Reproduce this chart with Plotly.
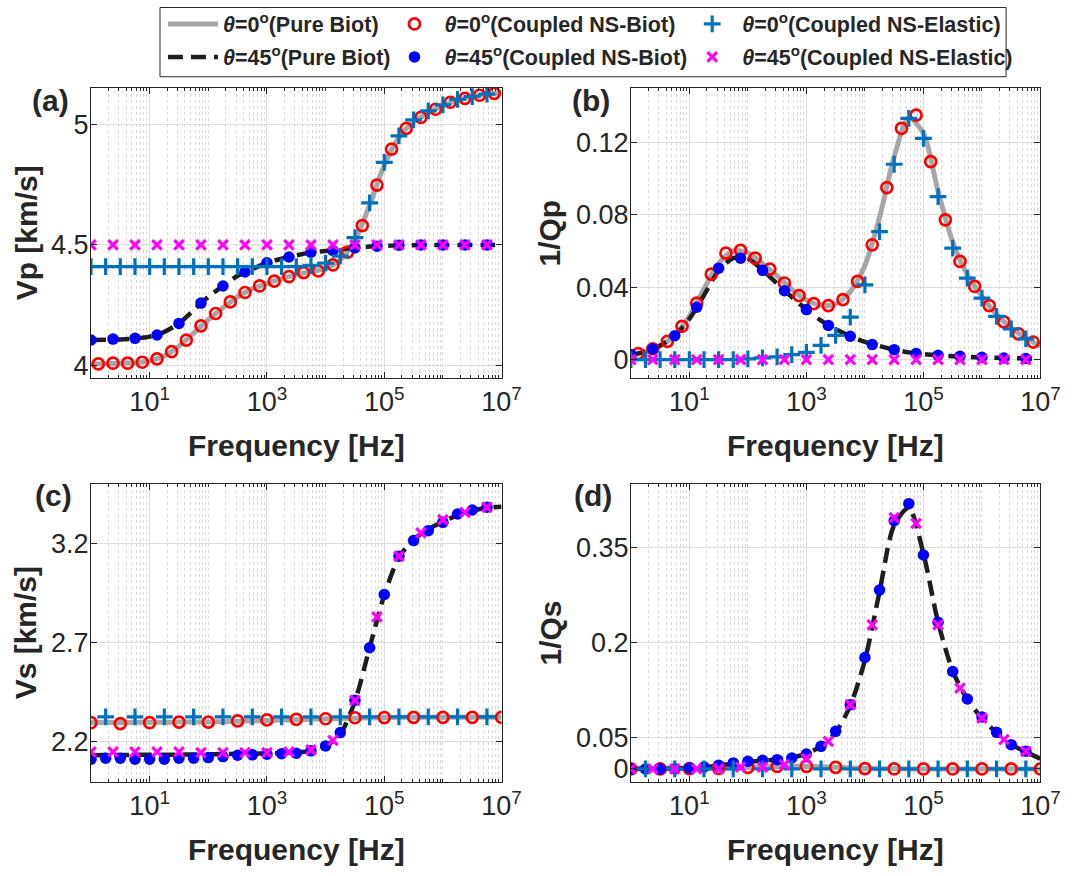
import numpy as np
import plotly.graph_objects as go

W, H = 1085, 876
FONT = "Liberation Sans, Arial, sans-serif"
AX = "#262626"
GREY = "#A6A6A6"
BLACK = "#1E1E1E"
RED = "#FF0000"
BLUE = "#0000FF"
MBLUE = "#0072BD"
MAGENTA = "#FF00FF"

# ---------------------------------------------------------------------------
# Frequency sampling (log10 of f in Hz)
# ---------------------------------------------------------------------------
LINE_LOG10F = np.arange(0, 7.01, 0.25)                 # continuous Pure-Biot curves
AB_RED_LOG10F = np.arange(0.125, 6.9, 0.25)            # NS-Biot, theta=0 (Vp, 1/Qp)
AB_BLUE_LOG10F = np.arange(0, 6.76, 0.375)             # NS-Biot, theta=45 (Vp, 1/Qp)
AB_PLUS_LOG10F = np.arange(0, 6.76, 0.25)              # NS-Elastic, theta=0 (Vp, 1/Qp)
AB_CROSS_LOG10F = np.arange(0, 6.76, 0.375)            # NS-Elastic, theta=45 (Vp, 1/Qp)
CD_RED_LOG10F = np.arange(0, 7.01, 0.5)                # NS-Biot, theta=0 (Vs, 1/Qs)
CD_BLUE_LOG10F = np.arange(0, 6.76, 0.25)              # NS-Biot, theta=45 (Vs, 1/Qs)
CD_PLUS_LOG10F = np.arange(0.25, 6.76, 0.5)            # NS-Elastic, theta=0 (Vs, 1/Qs)
CD_CROSS_LOG10F = np.arange(0, 6.76, 0.375)            # NS-Elastic, theta=45 (Vs, 1/Qs)

# ---------------------------------------------------------------------------
# (a) P-wave velocity [km/s]
# ---------------------------------------------------------------------------
vp_biot_0 = [4.006, 4.008, 4.010, 4.012, 4.020, 4.040, 4.080, 4.135, 4.190, 4.240,
             4.285, 4.318, 4.340, 4.360, 4.377, 4.390, 4.403, 4.438, 4.520, 4.665,
             4.830, 4.945, 5.010, 5.046, 5.077, 5.100, 5.114, 5.124, 5.130]
vp_biot_45 = [4.106, 4.107, 4.108, 4.112, 4.120, 4.140, 4.175, 4.230, 4.285, 4.330,
              4.372, 4.400, 4.426, 4.443, 4.457, 4.468, 4.475, 4.481, 4.488, 4.493,
              4.496, 4.498, 4.499, 4.500, 4.500, 4.500, 4.500, 4.500, 4.500]
vp_nsbiot_0 = [4.007, 4.010, 4.010, 4.014, 4.028, 4.058, 4.106, 4.165, 4.216, 4.264,
               4.303, 4.330, 4.350, 4.369, 4.385, 4.392, 4.417, 4.470, 4.580, 4.748,
               4.897, 4.983, 5.028, 5.062, 5.091, 5.107, 5.120, 5.128]
vp_nsbiot_45 = [4.106, 4.110, 4.113, 4.127, 4.175, 4.259, 4.330, 4.388, 4.426, 4.450,
                4.470, 4.477, 4.488, 4.495, 4.499, 4.500, 4.500, 4.500, 4.500]
vp_nselastic_0 = [4.410, 4.410, 4.410, 4.410, 4.410, 4.410, 4.410, 4.410, 4.410, 4.410,
                  4.410, 4.410, 4.410, 4.410, 4.410, 4.415, 4.425, 4.454, 4.530, 4.674,
                  4.842, 4.952, 5.018, 5.055, 5.080, 5.103, 5.114, 5.125]
vp_nselastic_45 = [4.500] * 19

# ---------------------------------------------------------------------------
# (b) P-wave attenuation 1/Qp
# ---------------------------------------------------------------------------
qp_biot_0 = [0.0022, 0.0040, 0.0075, 0.0135, 0.0240, 0.0390, 0.0530, 0.0600, 0.0590, 0.0530,
             0.0462, 0.0388, 0.0330, 0.0300, 0.0307, 0.0375, 0.0520, 0.0785, 0.1120, 0.1335,
             0.1250, 0.0930, 0.0650, 0.0470, 0.0350, 0.0250, 0.0175, 0.0120, 0.0075]
qp_biot_45 = [0.0025, 0.0045, 0.0078, 0.0132, 0.0225, 0.0355, 0.0490, 0.0560, 0.0558, 0.0495,
              0.0420, 0.0345, 0.0276, 0.0215, 0.0168, 0.0129, 0.0098, 0.0075, 0.0056, 0.0040,
              0.0030, 0.0024, 0.0019, 0.0015, 0.0012, 0.0010, 0.0008, 0.0006, 0.0005]
qp_nsbiot_0 = [0.0033, 0.0060, 0.0101, 0.0184, 0.0312, 0.0472, 0.0588, 0.0603, 0.0560, 0.0500,
               0.0423, 0.0353, 0.0309, 0.0298, 0.0331, 0.0432, 0.0634, 0.0950, 0.1277, 0.1350,
               0.1093, 0.0772, 0.0542, 0.0404, 0.0298, 0.0208, 0.0142, 0.0097]
qp_nsbiot_45 = [0.0028, 0.0059, 0.0132, 0.0289, 0.0505, 0.0560, 0.0493, 0.0380, 0.0276, 0.0189,
                0.0129, 0.0083, 0.0055, 0.0033, 0.0024, 0.0018, 0.0013, 0.0009, 0.0006]
qp_nselastic_0 = [0.0, 0.0, 0.0, 0.0, 0.0, 0.0, 0.0, 0.0, 0.0004, 0.0009,
                  0.0015, 0.0028, 0.0040, 0.0079, 0.0134, 0.0235, 0.0413, 0.0707, 0.1079, 0.1332,
                  0.1222, 0.0900, 0.0616, 0.0450, 0.0340, 0.0239, 0.0169, 0.0114]
qp_nselastic_45 = [0.0] * 19

# ---------------------------------------------------------------------------
# (c) S-wave velocity [km/s]
# ---------------------------------------------------------------------------
vs_biot_0 = [2.298, 2.298, 2.298, 2.299, 2.299, 2.299, 2.300, 2.300, 2.301, 2.302,
             2.304, 2.306, 2.308, 2.310, 2.312, 2.314, 2.316, 2.318, 2.320, 2.322,
             2.323, 2.324, 2.324, 2.324, 2.324, 2.324, 2.324, 2.324, 2.324]
vs_biot_45 = [2.133, 2.134, 2.134, 2.135, 2.135, 2.136, 2.136, 2.137, 2.138, 2.139,
              2.140, 2.141, 2.142, 2.144, 2.147, 2.155, 2.178, 2.240, 2.405, 2.675,
              2.940, 3.130, 3.220, 3.272, 3.310, 3.343, 3.366, 3.380, 3.386]
vs_nsbiot_0 = [2.297, 2.292, 2.297, 2.300, 2.300, 2.306, 2.311, 2.314, 2.317, 2.322,
               2.323, 2.324, 2.324, 2.324, 2.324]
vs_nsbiot_45 = [2.113, 2.118, 2.118, 2.113, 2.113, 2.113, 2.118, 2.118, 2.121, 2.126,
                2.133, 2.135, 2.138, 2.141, 2.143, 2.155, 2.180, 2.247, 2.410, 2.675,
                2.943, 3.136, 3.215, 3.265, 3.307, 3.349, 3.369, 3.383]
vs_nselastic_0 = [2.326] * 14
vs_nselastic_45 = [2.150, 2.150, 2.150, 2.150, 2.150, 2.146, 2.146, 2.146, 2.146, 2.150,
                   2.160, 2.208, 2.410, 2.831, 3.136, 3.254, 3.320, 3.357, 3.383]

# ---------------------------------------------------------------------------
# (d) S-wave attenuation 1/Qs
# ---------------------------------------------------------------------------
qs_biot_0 = [0.0, 0.0002, 0.0003, 0.0004, 0.0005, 0.0008, 0.0012, 0.0018, 0.0025, 0.0032,
             0.0038, 0.0041, 0.0040, 0.0034, 0.0026, 0.0017, 0.0009, 0.0005, 0.0002, 0.0001,
             0.0, 0.0, 0.0, 0.0, 0.0, 0.0, 0.0, 0.0, 0.0]
qs_biot_45 = [0.0003, 0.0004, 0.0006, 0.0009, 0.0014, 0.0030, 0.0055, 0.0085, 0.0110, 0.0130,
              0.0150, 0.0180, 0.0240, 0.0360, 0.0580, 0.1000, 0.1720, 0.2800, 0.3850, 0.4120,
              0.3400, 0.2320, 0.1550, 0.1100, 0.0800, 0.0570, 0.0390, 0.0270, 0.0160]
qs_nsbiot_0 = [0.0, 0.0, 0.0005, 0.0010, 0.0026, 0.0042, 0.0042, 0.0026, 0.0005, 0.0,
               0.0, 0.0, 0.0, 0.0, 0.0]
qs_nsbiot_45 = [0.0, 0.0, 0.0, 0.0005, 0.0016, 0.0030, 0.0058, 0.0095, 0.0121, 0.0137,
                0.0147, 0.0173, 0.0236, 0.0357, 0.0594, 0.1014, 0.1760, 0.2827, 0.3920, 0.4190,
                0.3380, 0.2317, 0.1540, 0.1104, 0.0820, 0.0578, 0.0384, 0.0279]
qs_nselastic_0 = [0.0] * 14
qs_nselastic_45 = [0.0, 0.0, 0.0, 0.0, 0.0, 0.0030, 0.0030, 0.0068, 0.0163, 0.0436,
                   0.1014, 0.2275, 0.3970, 0.3880, 0.2275, 0.1277, 0.0804, 0.0462, 0.0279]

# ---------------------------------------------------------------------------
# Axis ticks
# ---------------------------------------------------------------------------
XTICK_VALS = [1e1, 1e3, 1e5, 1e7]
XTICK_TEXT = ["10<sup>1</sup>", "10<sup>3</sup>", "10<sup>5</sup>", "10<sup>7</sup>"]
XMINOR_VALS = [m * 10.0 ** k for k in range(0, 7) for m in range(1, 10)
               if m * 10.0 ** k not in XTICK_VALS]

panels = {
    "a": dict(yrange=[3.95, 5.15], yticks=[4, 4.5, 5], ytext=["4", "4.5", "5"]),
    "b": dict(yrange=[-0.01, 0.15], yticks=[0, 0.04, 0.08, 0.12],
              ytext=["0", "0.04", "0.08", "0.12"]),
    "c": dict(yrange=[2.0, 3.5], yticks=[2.2, 2.7, 3.2], ytext=["2.2", "2.7", "3.2"]),
    "d": dict(yrange=[-0.02, 0.45], yticks=[0, 0.05, 0.2, 0.35],
              ytext=["0", "0.05", "0.2", "0.35"]),
}

# plot-area placement (pixels)
LEFT_X = [92.7, 511.0]
RIGHT_X = [642.7, 1060.0]
TOP_Y = [88.3, 379.0]
BOT_Y = [485.7, 784.3]


def xdom(px):
    return [px[0] / W, px[1] / W]


def ydom(py):
    return [1 - py[1] / H, 1 - py[0] / H]


def f(log10f):
    return 10.0 ** np.asarray(log10f)


NAMES = {
    "b0": "<i>θ</i>=0<sup>o</sup>(Pure Biot)",
    "b45": "<i>θ</i>=45<sup>o</sup>(Pure Biot)",
    "nb0": "<i>θ</i>=0<sup>o</sup>(Coupled NS-Biot)",
    "nb45": "<i>θ</i>=45<sup>o</sup>(Coupled NS-Biot)",
    "ne0": "<i>θ</i>=0<sup>o</sup>(Coupled NS-Elastic)",
    "ne45": "<i>θ</i>=45<sup>o</sup>(Coupled NS-Elastic)",
}

fig = go.Figure()


def add_panel(xa, ya, first, biot0, biot45, red_f, red_v, blue_f, blue_v,
              plus_f, plus_v, cross_f, cross_v):
    common = dict(xaxis=xa, yaxis=ya, showlegend=first, hoverinfo="skip")
    fig.add_trace(go.Scatter(
        x=f(LINE_LOG10F), y=biot0, mode="lines", name=NAMES["b0"], legend="legend",
        legendgroup="b0", line=dict(color=GREY, width=5, shape="spline", smoothing=0.8),
        **common))
    fig.add_trace(go.Scatter(
        x=f(LINE_LOG10F), y=biot45, mode="lines", name=NAMES["b45"], legend="legend",
        legendgroup="b45",
        line=dict(color=BLACK, width=4.5, dash="15px,8px", shape="spline", smoothing=0.8),
        **common))
    fig.add_trace(go.Scatter(
        x=f(red_f), y=red_v, mode="markers", name=NAMES["nb0"], legend="legend2",
        legendgroup="nb0",
        marker=dict(symbol="circle-open", size=11, color=RED, line=dict(width=2.7, color=RED)),
        **common))
    fig.add_trace(go.Scatter(
        x=f(blue_f), y=blue_v, mode="markers", name=NAMES["nb45"], legend="legend2",
        legendgroup="nb45",
        marker=dict(symbol="circle", size=11.5, color=BLUE, line=dict(width=0)),
        **common))
    fig.add_trace(go.Scatter(
        x=f(plus_f), y=plus_v, mode="markers", name=NAMES["ne0"], legend="legend3",
        legendgroup="ne0",
        marker=dict(symbol="cross-thin", size=12, color=MBLUE, line=dict(width=3.2, color=MBLUE)),
        **common))
    fig.add_trace(go.Scatter(
        x=f(cross_f), y=cross_v, mode="markers", name=NAMES["ne45"], legend="legend3",
        legendgroup="ne45",
        marker=dict(symbol="x-thin", size=9.5, color=MAGENTA, line=dict(width=3.2, color=MAGENTA)),
        **common))


add_panel("x", "y", True, vp_biot_0, vp_biot_45, AB_RED_LOG10F, vp_nsbiot_0,
          AB_BLUE_LOG10F, vp_nsbiot_45, AB_PLUS_LOG10F, vp_nselastic_0,
          AB_CROSS_LOG10F, vp_nselastic_45)
add_panel("x2", "y2", False, qp_biot_0, qp_biot_45, AB_RED_LOG10F, qp_nsbiot_0,
          AB_BLUE_LOG10F, qp_nsbiot_45, AB_PLUS_LOG10F, qp_nselastic_0,
          AB_CROSS_LOG10F, qp_nselastic_45)
add_panel("x3", "y3", False, vs_biot_0, vs_biot_45, CD_RED_LOG10F, vs_nsbiot_0,
          CD_BLUE_LOG10F, vs_nsbiot_45, CD_PLUS_LOG10F, vs_nselastic_0,
          CD_CROSS_LOG10F, vs_nselastic_45)
add_panel("x4", "y4", False, qs_biot_0, qs_biot_45, CD_RED_LOG10F, qs_nsbiot_0,
          CD_BLUE_LOG10F, qs_nsbiot_45, CD_PLUS_LOG10F, qs_nselastic_0,
          CD_CROSS_LOG10F, qs_nselastic_45)

TICKFONT = dict(size=27, color=AX, family=FONT)


def xaxis_cfg(dom, anchor):
    return dict(
        type="log", range=[0, 7], domain=dom, anchor=anchor,
        tickmode="array", tickvals=XTICK_VALS, ticktext=XTICK_TEXT,
        ticks="inside", ticklen=6, tickwidth=1, tickcolor=AX,
        showline=True, linecolor=AX, linewidth=1, mirror="allticks",
        showgrid=True, gridcolor="#DDDDDD", gridwidth=1, zeroline=False,
        minor=dict(tickmode="array", tickvals=XMINOR_VALS, ticks="inside", ticklen=3,
                   tickcolor=AX, tickwidth=1, showgrid=True, gridcolor="#D9D9D9",
                   griddash="dot", gridwidth=1),
        tickfont=TICKFONT, fixedrange=True,
    )


def yaxis_cfg(dom, anchor, p):
    return dict(
        range=p["yrange"], domain=dom, anchor=anchor,
        tickmode="array", tickvals=p["yticks"], ticktext=p["ytext"],
        ticks="inside", ticklen=6, tickwidth=1, tickcolor=AX,
        showline=True, linecolor=AX, linewidth=1, mirror="allticks",
        showgrid=True, gridcolor="#DDDDDD", gridwidth=1, zeroline=False,
        tickfont=TICKFONT, fixedrange=True, ticklabelstandoff=-4,
    )


LEGFONT = dict(size=21.5, color=AX, family=FONT, weight="bold")


def legend_cfg(xpx):
    return dict(
        x=xpx / W, y=1 - 3.5 / H, xanchor="left", yanchor="top", orientation="v",
        bgcolor="rgba(0,0,0,0)", borderwidth=0, itemwidth=50, font=LEGFONT,
        tracegroupgap=2, traceorder="grouped", itemclick=False, itemdoubleclick=False,
    )


annotations = []


def label(xpx, ypx, text, angle=0):
    annotations.append(dict(
        x=xpx / W, y=1 - ypx / H, xref="paper", yref="paper", text=text,
        showarrow=False, textangle=angle, xanchor="center", yanchor="middle",
        font=dict(size=30, color=AX, family=FONT, weight="bold"),
    ))


# panel tags
label(51, 101, "(a)")
label(602, 101, "(b)")
label(55, 497, "(c)")
label(604, 497, "(d)")
# axis titles
xc_left = (LEFT_X[0] + LEFT_X[1]) / 2
xc_right = (RIGHT_X[0] + RIGHT_X[1]) / 2
label(xc_left, 447, "Frequency [Hz]")
label(xc_right, 447, "Frequency [Hz]")
label(xc_left, 852, "Frequency [Hz]")
label(xc_right, 852, "Frequency [Hz]")
ymid_top = (TOP_Y[0] + TOP_Y[1]) / 2
ymid_bot = (BOT_Y[0] + BOT_Y[1]) / 2
label(27, ymid_top, "Vp [km/s]", -90)
label(560, ymid_top, "1/Qp", -90)
label(26, ymid_bot, "Vs [km/s]", -90)
label(561, ymid_bot, "1/Qs", -90)

fig.update_layout(
    width=W, height=H, margin=dict(l=0, r=0, t=0, b=0),
    paper_bgcolor="white", plot_bgcolor="white",
    font=dict(family=FONT, color=AX),
    xaxis=xaxis_cfg(xdom(LEFT_X), "y"),
    yaxis=yaxis_cfg(ydom(TOP_Y), "x", panels["a"]),
    xaxis2=xaxis_cfg(xdom(RIGHT_X), "y2"),
    yaxis2=yaxis_cfg(ydom(TOP_Y), "x2", panels["b"]),
    xaxis3=xaxis_cfg(xdom(LEFT_X), "y3"),
    yaxis3=yaxis_cfg(ydom(BOT_Y), "x3", panels["c"]),
    xaxis4=xaxis_cfg(xdom(RIGHT_X), "y4"),
    yaxis4=yaxis_cfg(ydom(BOT_Y), "x4", panels["d"]),
    legend=legend_cfg(166),
    legend2=legend_cfg(391.7),
    legend3=legend_cfg(695),
    annotations=annotations,
    shapes=[dict(type="rect", xref="paper", yref="paper",
                 x0=163 / W, x1=1025 / W, y0=1 - 77 / H, y1=1 - 7.5 / H,
                 line=dict(color=AX, width=1), fillcolor="rgba(0,0,0,0)", layer="above")],
    showlegend=True,
)

fig.write_html("out.html")
